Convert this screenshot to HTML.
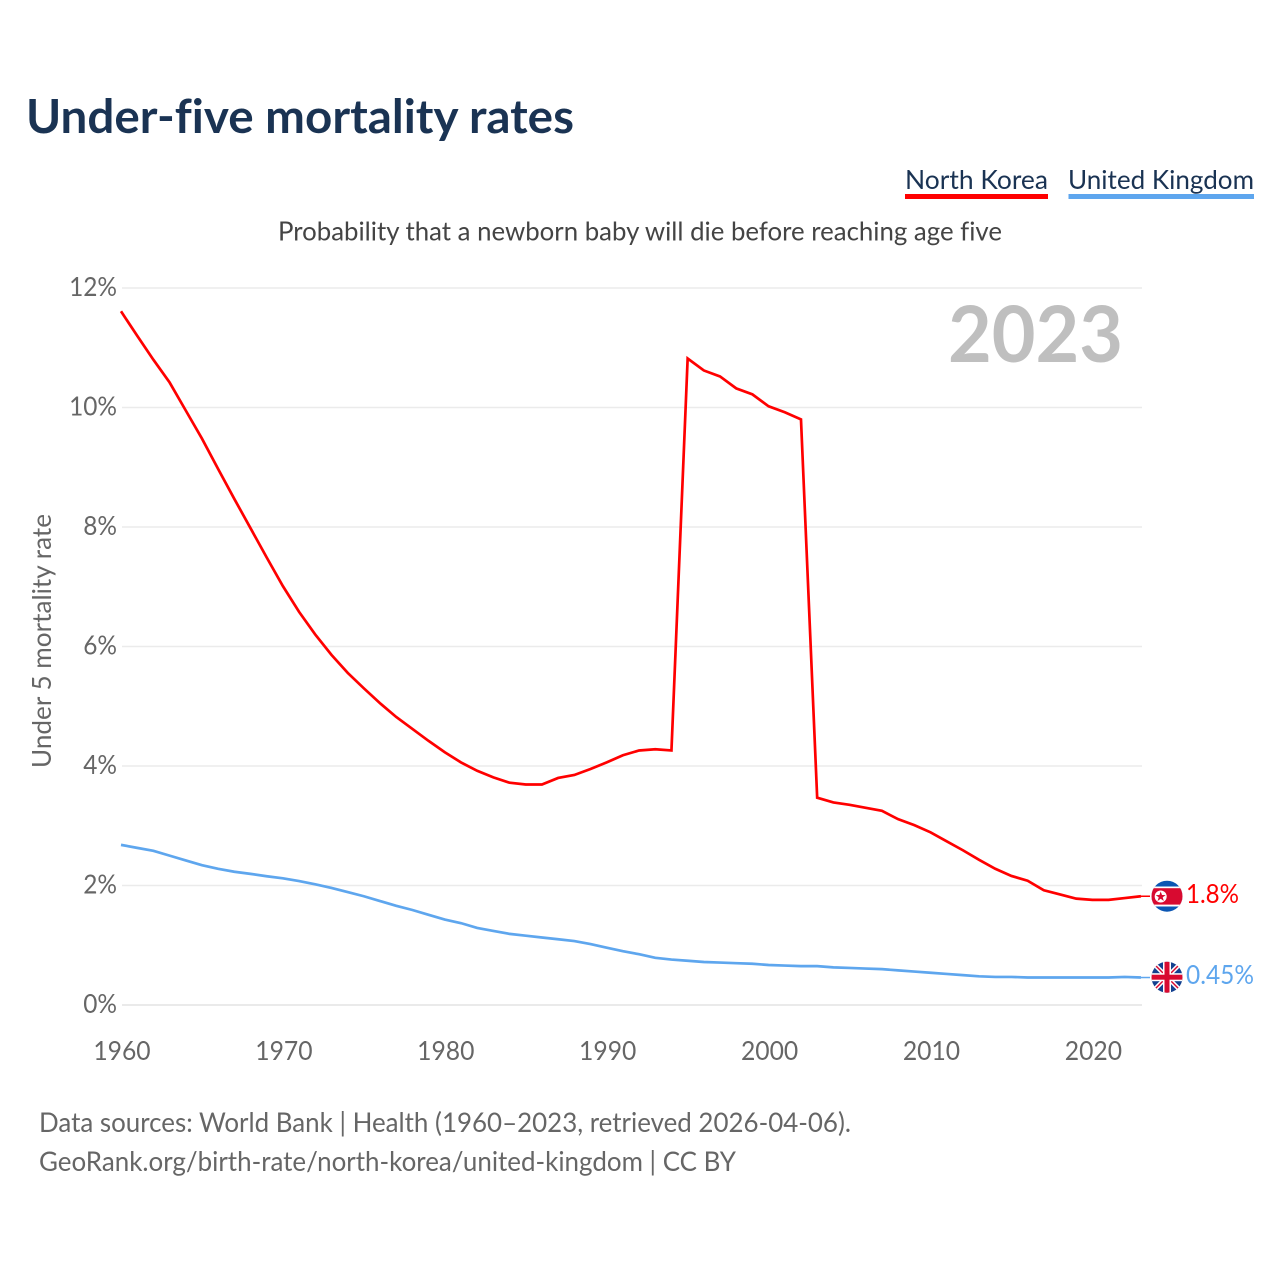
<!DOCTYPE html>
<html lang="en">
<head>
<meta charset="utf-8">
<title>Under-five mortality rates</title>
<style>
html,body{margin:0;padding:0;background:#fff;}
svg{display:block;}
text{font-family:Lato,Carlito,"Liberation Sans",sans-serif;font-variant-ligatures:none;font-feature-settings:"liga" 0;}
</style>
</head>
<body>
<svg id="chart" xmlns="http://www.w3.org/2000/svg" width="1280" height="1280" viewBox="0 0 1280 1280">
  <defs>
    <clipPath id="clip-kp"><circle cx="1167" cy="896.2" r="15.5"/></clipPath>
    <clipPath id="clip-uk"><circle cx="1167" cy="977.2" r="15.5"/></clipPath>
  </defs>
  <rect width="1280" height="1280" fill="#fff"/>
  <text x="26" y="133" font-size="47" font-weight="700" fill="#1a3353" textLength="548" lengthAdjust="spacingAndGlyphs">Under-five mortality rates</text>

  <g>
    <text x="905" y="189" font-size="26.500" fill="#1a3353" textLength="143" lengthAdjust="spacingAndGlyphs">North Korea</text>
    <rect x="905" y="194" width="143" height="5" fill="#ff0000"/>
  </g>
  <g>
    <text x="1068" y="189" font-size="26.500" fill="#1a3353" textLength="186" lengthAdjust="spacingAndGlyphs">United Kingdom</text>
    <rect x="1068.500" y="194" width="185.500" height="5" fill="#5ea6ee"/>
  </g>

  <text x="278" y="240.500" font-size="26.500" fill="#444" textLength="724" lengthAdjust="spacingAndGlyphs">Probability that a newborn baby will die before reaching age five</text>
  <text transform="translate(51,641) rotate(-90)" text-anchor="middle" font-size="26.500" fill="#666" textLength="254" lengthAdjust="spacingAndGlyphs">Under 5 mortality rate</text>

  <g id="grid"></g>
  <g id="y-ticks"></g>
  <g id="x-ticks"></g>

  <text x="948" y="362" font-size="78" font-weight="700" fill="#bfbfbf" textLength="175" lengthAdjust="spacingAndGlyphs">2023</text>

  <g id="series"></g>

  <g clip-path="url(#clip-kp)">
    <rect x="1151" y="880" width="32" height="33" fill="#0b56b3"/>
    <rect x="1151" y="886.500" width="32" height="20" fill="#fff"/>
    <rect x="1151" y="888.200" width="32" height="16.400" fill="#d80a30"/>
    <circle cx="1160.700" cy="896.500" r="6" fill="#fff"/>
    <polygon points="1160.700,891.500 1162,895 1165.700,895.100 1162.700,897.300 1163.800,901 1160.700,898.800 1157.600,901 1158.700,897.300 1155.700,895.100 1159.400,895" fill="#d80a30"/>
  </g>
  <g clip-path="url(#clip-uk)">
    <rect x="1151" y="961" width="32" height="33" fill="#12408f"/>
    <line x1="1151" y1="961" x2="1183" y2="993" stroke="#fff" stroke-width="4.500"/>
    <line x1="1183" y1="961" x2="1151" y2="993" stroke="#fff" stroke-width="4.500"/>
    <line x1="1151" y1="961" x2="1183" y2="993" stroke="#d80a30" stroke-width="1.500"/>
    <line x1="1183" y1="961" x2="1151" y2="993" stroke="#d80a30" stroke-width="1.500"/>
    <rect x="1163" y="961" width="8" height="33" fill="#fff"/>
    <rect x="1151" y="973.200" width="32" height="8" fill="#fff"/>
    <rect x="1164.500" y="961" width="5" height="33" fill="#d80a30"/>
    <rect x="1151" y="974.700" width="32" height="5" fill="#d80a30"/>
  </g>

  <text x="1186" y="903" font-size="26" fill="#ff0000" textLength="53" lengthAdjust="spacingAndGlyphs">1.8%</text>
  <text x="1186" y="984" font-size="26" fill="#5ea6ee" textLength="68" lengthAdjust="spacingAndGlyphs">0.45%</text>

  <text x="39" y="1132" font-size="27.500" fill="#666" textLength="812" lengthAdjust="spacingAndGlyphs">Data sources: World Bank | Health (1960–2023, retrieved 2026-04-06).</text>
  <text x="39" y="1171" font-size="27.500" fill="#666" textLength="697" lengthAdjust="spacingAndGlyphs">GeoRank.org/birth-rate/north-korea/united-kingdom | CC BY</text>

<script>
var startYear = 1960;
var northKorea = [11.61,11.2,10.8,10.42,9.95,9.48,8.97,8.47,7.98,7.49,7.01,6.58,6.2,5.86,5.56,5.3,5.05,4.82,4.62,4.42,4.23,4.06,3.92,3.81,3.72,3.69,3.69,3.8,3.85,3.95,4.06,4.18,4.26,4.28,4.26,10.82,10.62,10.52,10.32,10.22,10.02,9.92,9.8,3.47,3.39,3.35,3.3,3.25,3.11,3.01,2.89,2.74,2.59,2.43,2.28,2.16,2.08,1.92,1.85,1.78,1.76,1.76,1.79,1.82];
var unitedKingdom = [2.68,2.63,2.58,2.5,2.42,2.34,2.28,2.23,2.195,2.155,2.12,2.075,2.02,1.96,1.89,1.82,1.74,1.66,1.59,1.51,1.43,1.37,1.29,1.24,1.19,1.16,1.13,1.1,1.07,1.02,0.96,0.9,0.85,0.79,0.76,0.74,0.72,0.71,0.7,0.69,0.67,0.66,0.65,0.65,0.63,0.62,0.61,0.6,0.58,0.56,0.54,0.52,0.5,0.48,0.47,0.47,0.46,0.46,0.46,0.46,0.46,0.46,0.47,0.46];
var yTickValues = [0,2,4,6,8,10,12];
var xTickValues = [1960,1970,1980,1990,2000,2010,2020];

var NS = 'http://www.w3.org/2000/svg';
function xScale(year){ return 121 + (year - 1960) * 16.19; }
function yScale(v){ return 1005 - v * 59.75; }
function linePath(values){
  var d = '';
  for (var i = 0; i < values.length; i++) {
    d += (i ? 'L' : 'M') + xScale(startYear + i).toFixed(2) + ' ' + yScale(values[i]).toFixed(2);
  }
  return d;
}

var grid = document.getElementById('grid');
var yTicks = document.getElementById('y-ticks');
var xTicks = document.getElementById('x-ticks');
var series = document.getElementById('series');

yTickValues.forEach(function(v){
  var gl = document.createElementNS(NS, 'line');
  
  
  gl.setAttribute('x1', 122);
  gl.setAttribute('x2', 1142);
  gl.setAttribute('y1', yScale(v));
  gl.setAttribute('y2', yScale(v));
  gl.setAttribute('stroke', v === 0 ? '#e4e4e4' : '#ebebeb');
  gl.setAttribute('stroke-width', 1.5);
  grid.appendChild(gl);

  var t = document.createElementNS(NS, 'text');
  
  
  t.setAttribute('transform', 'translate(117,' + (yScale(v) + 8) + ') scale(0.94,1)');
  t.setAttribute('text-anchor', 'end');
  t.setAttribute('font-size', 26);
  t.setAttribute('fill', '#666');
  t.textContent = v + '%';
  yTicks.appendChild(t);
});

xTickValues.forEach(function(y){
  var t = document.createElementNS(NS, 'text');
  
  
  t.setAttribute('transform', 'translate(' + (xScale(y) + 1) + ',1060) scale(0.95,1)');
  t.setAttribute('text-anchor', 'middle');
  t.setAttribute('font-size', 26);
  t.setAttribute('fill', '#666');
  t.textContent = y;
  xTicks.appendChild(t);
});

var lastIndex = northKorea.length - 1;
var lastYear = startYear + lastIndex;

var ukConnector = document.createElementNS(NS, 'line');


ukConnector.setAttribute('x1', xScale(lastYear));
ukConnector.setAttribute('x2', 1150);
ukConnector.setAttribute('y1', yScale(unitedKingdom[lastIndex]));
ukConnector.setAttribute('y2', yScale(unitedKingdom[lastIndex]));
ukConnector.setAttribute('stroke', '#5ea6ee');
ukConnector.setAttribute('stroke-width', 1.5);
series.appendChild(ukConnector);

var nkConnector = document.createElementNS(NS, 'line');


nkConnector.setAttribute('x1', xScale(lastYear));
nkConnector.setAttribute('x2', 1150);
nkConnector.setAttribute('y1', yScale(northKorea[lastIndex]));
nkConnector.setAttribute('y2', yScale(northKorea[lastIndex]));
nkConnector.setAttribute('stroke', '#ff0000');
nkConnector.setAttribute('stroke-width', 1.5);
series.appendChild(nkConnector);

var ukLine = document.createElementNS(NS, 'path');


ukLine.setAttribute('d', linePath(unitedKingdom));
ukLine.setAttribute('fill', 'none');
ukLine.setAttribute('stroke', '#5ea6ee');
ukLine.setAttribute('stroke-width', 2.7);
series.appendChild(ukLine);

var nkLine = document.createElementNS(NS, 'path');


nkLine.setAttribute('d', linePath(northKorea));
nkLine.setAttribute('fill', 'none');
nkLine.setAttribute('stroke', '#ff0000');
nkLine.setAttribute('stroke-width', 2.7);
series.appendChild(nkLine);
</script>
</svg>
</body>
</html>
